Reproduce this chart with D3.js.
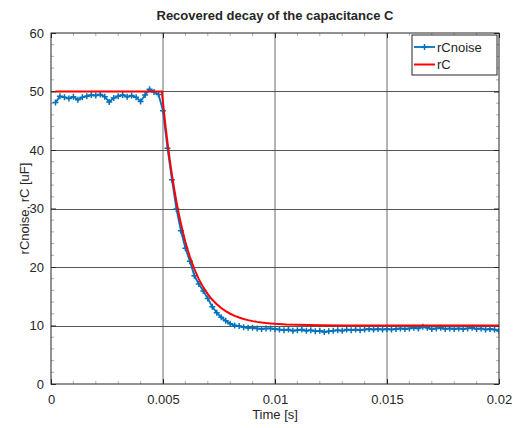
<!DOCTYPE html>
<html lang="en">
<head>
<meta charset="UTF-8">
<title>Recovered decay of the capacitance C</title>
<script src="https://cdn.jsdelivr.net/npm/d3@7"></script>
<style>
	body { margin: 0; background: #fff; }
	svg text { font-family: "Liberation Sans", Arial, Helvetica, sans-serif; fill: #262626; }
</style>
</head>
<body>
<div id="chart"></div>
<script>
	// noisy samples, every 0.2 ms
	var noiseTime = [
		0.0002,0.0004,0.0006,0.0008,0.0010,0.0012,0.0014,0.0016,0.0018,0.0020,
		0.0022,0.0024,0.0026,0.0028,0.0030,0.0032,0.0034,0.0036,0.0038,0.0040,
		0.0042,0.0044,0.0046,0.0048,0.0050,0.0052,0.0054,0.0056,0.0058,0.0060,
		0.0062,0.0064,0.0066,0.0068,0.0070,0.0072,0.0074,0.0076,0.0078,0.0080,
		0.0082,0.0084,0.0086,0.0088,0.0090,0.0092,0.0094,0.0096,0.0098,0.0100,
		0.0102,0.0104,0.0106,0.0108,0.0110,0.0112,0.0114,0.0116,0.0118,0.0120,
		0.0122,0.0124,0.0126,0.0128,0.0130,0.0132,0.0134,0.0136,0.0138,0.0140,
		0.0142,0.0144,0.0146,0.0148,0.0150,0.0152,0.0154,0.0156,0.0158,0.0160,
		0.0162,0.0164,0.0166,0.0168,0.0170,0.0172,0.0174,0.0176,0.0178,0.0180,
		0.0182,0.0184,0.0186,0.0188,0.0190,0.0192,0.0194,0.0196,0.0198,0.0200
	];
	var rCnoise = [
		48.1,49.2,49.0,48.8,49.1,48.6,49.0,49.2,49.4,49.3,
		49.5,49.1,48.2,48.9,49.2,49.4,49.1,49.3,49.0,48.3,
		49.4,50.4,49.9,49.5,46.7,40.3,34.9,29.9,26.2,23.2,
		21.0,18.5,17.1,15.9,14.6,13.2,12.2,11.4,10.8,10.3,
		10.0,9.9,9.7,9.6,9.6,9.5,9.4,9.5,9.5,9.4,
		9.3,9.2,9.3,9.1,9.2,9.3,9.1,9.2,9.0,9.1,
		8.9,9.0,9.1,9.2,9.1,9.3,9.2,9.3,9.2,9.3,
		9.4,9.3,9.4,9.3,9.4,9.3,9.4,9.5,9.4,9.5,
		9.6,9.5,9.8,9.6,9.4,9.5,9.6,9.4,9.5,9.4,
		9.5,9.4,9.5,9.6,9.4,9.5,9.3,9.4,9.3,9.1
	];

	// recovered C, denser around the knee
	var rcTime = [
		0.0002,0.00495,0.0050,0.0051,0.0052,0.0053,0.0054,0.0055,0.0056,0.0057,
		0.0058,0.0059,0.0060,0.0061,0.0062,0.0063,0.0064,0.0066,0.0068,0.0070,
		0.0072,0.0074,0.0076,0.0078,0.0080,0.0082,0.0084,0.0086,0.0088,0.0090,
		0.0092,0.0094,0.0096,0.0098,0.0100,0.0105,0.0110,0.0120,0.0130,0.0140,
		0.0160,0.0180,0.0200
	];
	var rC = [
		50.0,50.0,48.09,44.53,41.31,38.38,35.74,33.33,31.15,29.18,
		27.39,25.76,24.29,22.96,21.75,20.65,19.65,17.93,16.52,15.36,
		14.40,13.62,12.98,12.45,12.01,11.65,11.36,11.12,10.92,10.75,
		10.62,10.51,10.42,10.35,10.28,10.17,10.11,10.04,10.02,10.01,
		10.0,10.0,10.0
	];

	var xTicks = [0, 0.005, 0.01, 0.015, 0.02];
	var xTickLabels = ["0", "0.005", "0.01", "0.015", "0.02"];
	var yTicks = [0, 10, 20, 30, 40, 50, 60];
	var xMinorTicks = [0.001,0.002,0.003,0.004,0.006,0.007,0.008,0.009,0.011,0.012,0.013,0.014,0.016,0.017,0.018,0.019];
	var yMinorTicks = [2,4,6,8,12,14,16,18,22,24,26,28,32,34,36,38,42,44,46,48,52,54,56,58];

	var width = 522, height = 428;
	var pLeft = 51, pRight = 499, pTop = 33, pBottom = 384;
	var axisColor = "#262626";
	var blue = "#0072BD", red = "#FF0000";

	var svg = d3.select("#chart").append("svg")
		.attr("width", width)
		.attr("height", height);

	var x = d3.scaleLinear().domain([0, 0.02]).range([pLeft, pRight]);
	var y = d3.scaleLinear().domain([0, 60]).range([pBottom, pTop]);

	svg.append("rect")
		.attr("x", pLeft).attr("y", pTop)
		.attr("width", pRight - pLeft).attr("height", pBottom - pTop)
		.attr("fill", "#fff");

	// grid
	var grid = svg.append("g").attr("class", "grid");
	grid.selectAll(".gx").data(xTicks.slice(1, -1)).enter().append("line")
		.attr("x1", d => x(d)).attr("x2", d => x(d))
		.attr("y1", pTop).attr("y2", pBottom)
		.attr("stroke", "#3a3a3a").attr("stroke-opacity", 0.75);
	grid.selectAll(".gy").data(yTicks.slice(1, -1)).enter().append("line")
		.attr("x1", pLeft).attr("x2", pRight)
		.attr("y1", d => Math.round(y(d)) + 0.5).attr("y2", d => Math.round(y(d)) + 0.5)
		.attr("stroke", "#3a3a3a").attr("stroke-opacity", 0.85);

	// minor ticks on the box
	var minor = svg.append("g").attr("stroke", "#9a9a9a").attr("stroke-width", 0.8);
	xMinorTicks.forEach(function(t){
		minor.append("line").attr("x1", x(t)).attr("x2", x(t)).attr("y1", pBottom).attr("y2", pBottom - 3);
		minor.append("line").attr("x1", x(t)).attr("x2", x(t)).attr("y1", pTop).attr("y2", pTop + 3);
	});
	yMinorTicks.forEach(function(v){
		minor.append("line").attr("x1", pLeft).attr("x2", pLeft + 3).attr("y1", y(v)).attr("y2", y(v));
		minor.append("line").attr("x1", pRight).attr("x2", pRight - 3).attr("y1", y(v)).attr("y2", y(v));
	});

	// axes
	var xAxis = d3.axisBottom(x).tickValues(xTicks)
		.tickFormat((d, i) => xTickLabels[i]).tickSize(-5).tickPadding(11);
	var yAxis = d3.axisLeft(y).tickValues(yTicks).tickSize(-5).tickPadding(7);

	var gx = svg.append("g").attr("transform", "translate(0," + pBottom + ")").call(xAxis);
	var gy = svg.append("g").attr("transform", "translate(" + pLeft + ",0)").call(yAxis);
	[gx, gy].forEach(function(g){
		g.select(".domain").remove();
		g.selectAll(".tick line").attr("stroke", axisColor);
		g.selectAll(".tick text").attr("font-size", 13).attr("fill", axisColor)
			.style("font-family", "'Liberation Sans', Arial, sans-serif");
	});
	svg.append("g").attr("transform", "translate(0," + pTop + ")")
		.call(d3.axisTop(x).tickValues(xTicks).tickSize(-5).tickFormat(""))
		.call(g => g.select(".domain").remove())
		.selectAll("line").attr("stroke", axisColor);
	svg.append("g").attr("transform", "translate(" + pRight + ",0)")
		.call(d3.axisRight(y).tickValues(yTicks).tickSize(-5).tickFormat(""))
		.call(g => g.select(".domain").remove())
		.selectAll("line").attr("stroke", axisColor);

	svg.append("defs").append("clipPath").attr("id", "plot-clip")
		.append("rect").attr("x", pLeft).attr("y", pTop)
		.attr("width", pRight - pLeft).attr("height", pBottom - pTop);

	var plot = svg.append("g").attr("clip-path", "url(#plot-clip)");

	var noiseData = noiseTime.map((t, i) => [t, rCnoise[i]]);
	var rcData = rcTime.map((t, i) => [t, rC[i]]);
	var line = d3.line().x(d => x(d[0])).y(d => y(d[1]));

	plot.append("path").datum(noiseData)
		.attr("d", line).attr("fill", "none")
		.attr("stroke", blue).attr("stroke-width", 1.8);

	plot.selectAll(".mk").data(noiseData).enter().append("path")
		.attr("d", d => "M" + (x(d[0]) - 3) + "," + y(d[1]) + "h6M" + x(d[0]) + "," + (y(d[1]) - 3) + "v6")
		.attr("stroke", blue).attr("stroke-width", 1.5).attr("fill", "none");

	plot.append("path").datum(rcData)
		.attr("d", line).attr("fill", "none")
		.attr("stroke", red).attr("stroke-width", 2);

	// box
	svg.append("rect")
		.attr("x", pLeft).attr("y", pTop)
		.attr("width", pRight - pLeft).attr("height", pBottom - pTop)
		.attr("fill", "none").attr("stroke", axisColor).attr("stroke-width", 1);

	// title and labels
	svg.append("text")
		.attr("x", (pLeft + pRight) / 2).attr("y", 20)
		.attr("text-anchor", "middle")
		.attr("font-size", 13).attr("font-weight", "bold")
		.attr("fill", "#000")
		.text("Recovered decay of the capacitance C");

	svg.append("text")
		.attr("x", (pLeft + pRight) / 2).attr("y", 419)
		.attr("text-anchor", "middle")
		.attr("font-size", 13)
		.text("Time [s]");

	svg.append("text")
		.attr("transform", "translate(29," + ((pTop + pBottom) / 2) + ") rotate(-90)")
		.attr("text-anchor", "middle")
		.attr("font-size", 13)
		.text("rCnoise, rC [uF]");

	// legend
	var legend = svg.append("g").attr("transform", "translate(412,35)");
	legend.append("rect")
		.attr("x", 0).attr("y", 0).attr("width", 85).attr("height", 40)
		.attr("fill", "#fff").attr("stroke", axisColor).attr("stroke-width", 1);
	var items = [
		{ name: "rCnoise", color: blue, marker: true },
		{ name: "rC", color: red, marker: false }
	];
	items.forEach(function(it, i){
		var cy = 12 + i * 17.5;
		legend.append("line")
			.attr("x1", 2).attr("x2", 23).attr("y1", cy).attr("y2", cy)
			.attr("stroke", it.color).attr("stroke-width", it.marker ? 1.8 : 2);
		if (it.marker) {
			legend.append("path")
				.attr("d", "M9.5," + cy + "h6M12.5," + (cy - 3) + "v6")
				.attr("stroke", it.color).attr("stroke-width", 1.5);
		}
		legend.append("text")
			.attr("x", 25).attr("y", cy + 4.5)
			.attr("font-size", 13)
			.attr("fill", "#000")
			.text(it.name);
	});
</script>
</body>
</html>
